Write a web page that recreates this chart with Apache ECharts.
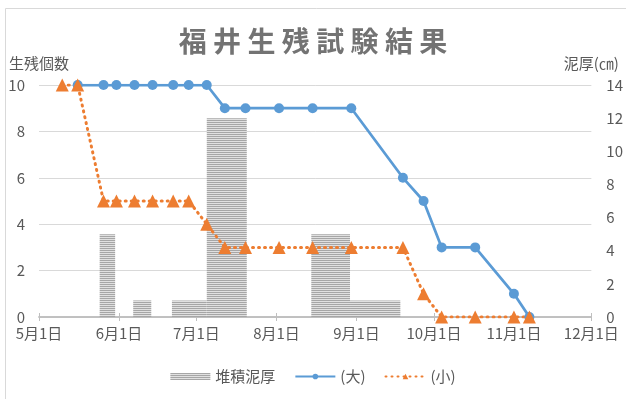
<!DOCTYPE html>
<html>
<head>
<meta charset="utf-8">
<script src="https://cdn.jsdelivr.net/npm/echarts@6/dist/echarts.min.js"></script>
<style>
  html, body { margin: 0; padding: 0; background: #fff; }
  #chart { width: 626px; height: 399px; }
</style>
</head>
<body>
<div id="chart"></div>
<script>
// measurement dates and survivors
const dates = ['2017-05-10', '2017-05-16', '2017-05-26', '2017-05-31', '2017-06-07', '2017-06-14',
  '2017-06-22', '2017-06-28', '2017-07-05', '2017-07-12', '2017-07-20', '2017-08-02', '2017-08-15',
  '2017-08-30', '2017-09-19', '2017-09-27', '2017-10-04', '2017-10-17', '2017-11-01', '2017-11-07']
const large = [null, 10, 10, 10, 10, 10, 10, 10, 10, 9, 9, 9, 9, 9, 6, 5, 3, 3, 1, 0]
const small = [10, 10, 5, 5, 5, 5, 5, 5, 4, 3, 3, 3, 3, 3, 3, 1, 0, 0, 0, 0]

// deposited mud (cm) over date ranges
const mudStart = ['2017-05-24 12:00', '2017-06-06 12:00', '2017-06-21 12:00', '2017-07-05', '2017-08-14 12:00', '2017-08-29 12:00']
const mudEnd = ['2017-05-30 12:00', '2017-06-13 12:00', '2017-07-05', '2017-07-20 12:00', '2017-08-29 12:00', '2017-09-18']
const mudDepth = [5, 1, 1, 12, 5, 1]

const xMin = '2017-05-01'
const xMax = '2017-12-01'

const chart = echarts.init(document.getElementById('chart'))

const makeStripes = () => {
  const c = document.createElement('canvas')
  c.width = 4
  c.height = 2
  const g = c.getContext('2d')
  g.fillStyle = '#e0e0e0'
  g.fillRect(0, 0, 4, 2)
  g.fillStyle = '#a6a6a6'
  g.fillRect(0, 0, 4, 1)
  return { image: c, repeat: 'repeat' }
}
const stripes = makeStripes()

const font = '"Noto Sans CJK JP", "Noto Sans", sans-serif'
const textColor = '#595959'
const dateLabel = (v) => {
  const d = new Date(v)
  return (d.getMonth() + 1) + '月' + d.getDate() + '日'
}

const option = {
  textStyle: { fontFamily: font },
  graphic: [{
    type: 'rect', silent: true,
    shape: { x: 5.5, y: 8.5, width: 700, height: 500 },
    style: { fill: 'none', stroke: '#d9d9d9', lineWidth: 1 }
  }],
  title: {
    text: '福 井 生 残 試 験 結 果',
    left: 'center',
    top: 22,
    textStyle: { fontFamily: font, fontSize: 28, fontWeight: 'bold', color: '#737373' }
  },
  legend: {
    bottom: 10,
    left: 'center',
    itemWidth: 40,
    itemHeight: 7,
    itemGap: 19,
    textStyle: { fontFamily: font, fontSize: 15, color: textColor },
    data: [{ name: '堆積泥厚', icon: 'rect' }, { name: '(大)' }, { name: '(小)' }]
  },
  grid: { left: 39, right: 31, top: 85, bottom: 82 },
  xAxis: [{
    type: 'time',
    min: xMin,
    max: xMax,
    splitNumber: 7,
    axisLine: { lineStyle: { color: '#bfbfbf', width: 1.5 } },
    axisTick: { show: true, length: 4, lineStyle: { color: '#bfbfbf' } },
    splitLine: { show: false },
    axisLabel: { formatter: dateLabel, fontSize: 15, color: textColor, margin: 9, showMinLabel: true, showMaxLabel: true }
  }, {
    type: 'time',
    position: 'top',
    min: xMin,
    max: xMax,
    splitNumber: 7,
    axisLine: { lineStyle: { color: '#bfbfbf', width: 1.5 } },
    axisTick: { show: true, length: 4, lineStyle: { color: '#bfbfbf' } },
    splitLine: { show: false },
    axisLabel: { show: false }
  }],
  yAxis: [{
    type: 'value',
    min: 0, max: 10, interval: 2,
    name: '生残個数',
    nameLocation: 'end',
    nameGap: 14,
    nameTextStyle: { fontSize: 15, color: textColor, align: 'center' },
    axisLine: { show: false },
    axisTick: { show: false },
    splitLine: { lineStyle: { color: '#d9d9d9' } },
    axisLabel: { fontSize: 15, color: textColor, margin: 14 }
  }, {
    type: 'value',
    min: 0, max: 14, interval: 2,
    name: '泥厚(㎝)',
    nameLocation: 'end',
    nameGap: 14,
    nameTextStyle: { fontSize: 15, color: textColor, align: 'center' },
    axisLine: { show: false },
    axisTick: { show: false },
    splitLine: { show: false },
    axisLabel: { fontSize: 15, color: textColor, margin: 15 }
  }],
  series: [{
    name: '堆積泥厚',
    type: 'custom',
    yAxisIndex: 1,
    itemStyle: { color: stripes },
    encode: { x: [0, 1], y: 2 },
    data: mudStart.map((s, i) => [s, mudEnd[i], mudDepth[i]]),
    renderItem: (params, api) => {
      const a = api.coord([api.value(0), api.value(2)])
      const b = api.coord([api.value(1), 0])
      return {
        type: 'rect',
        shape: { x: a[0], y: a[1], width: b[0] - a[0], height: b[1] - a[1] },
        style: { fill: stripes }
      }
    }
  }, {
    name: '(大)',
    type: 'line',
    data: dates.map((d, i) => [d, large[i]]).filter(p => p[1] !== null),
    symbol: 'circle',
    symbolSize: 10,
    lineStyle: { color: '#5b9bd5', width: 2.75 },
    itemStyle: { color: '#5b9bd5' }
  }, {
    name: '(小)',
    type: 'line',
    data: dates.map((d, i) => [d, small[i]]),
    symbol: 'triangle',
    symbolSize: 13,
    lineStyle: { color: '#ed7d31', width: 3, type: [1, 5], cap: 'round' },
    itemStyle: { color: '#ed7d31' }
  }]
}

chart.setOption(option)
window.addEventListener('resize', () => chart.resize())
</script>
</body>
</html>
